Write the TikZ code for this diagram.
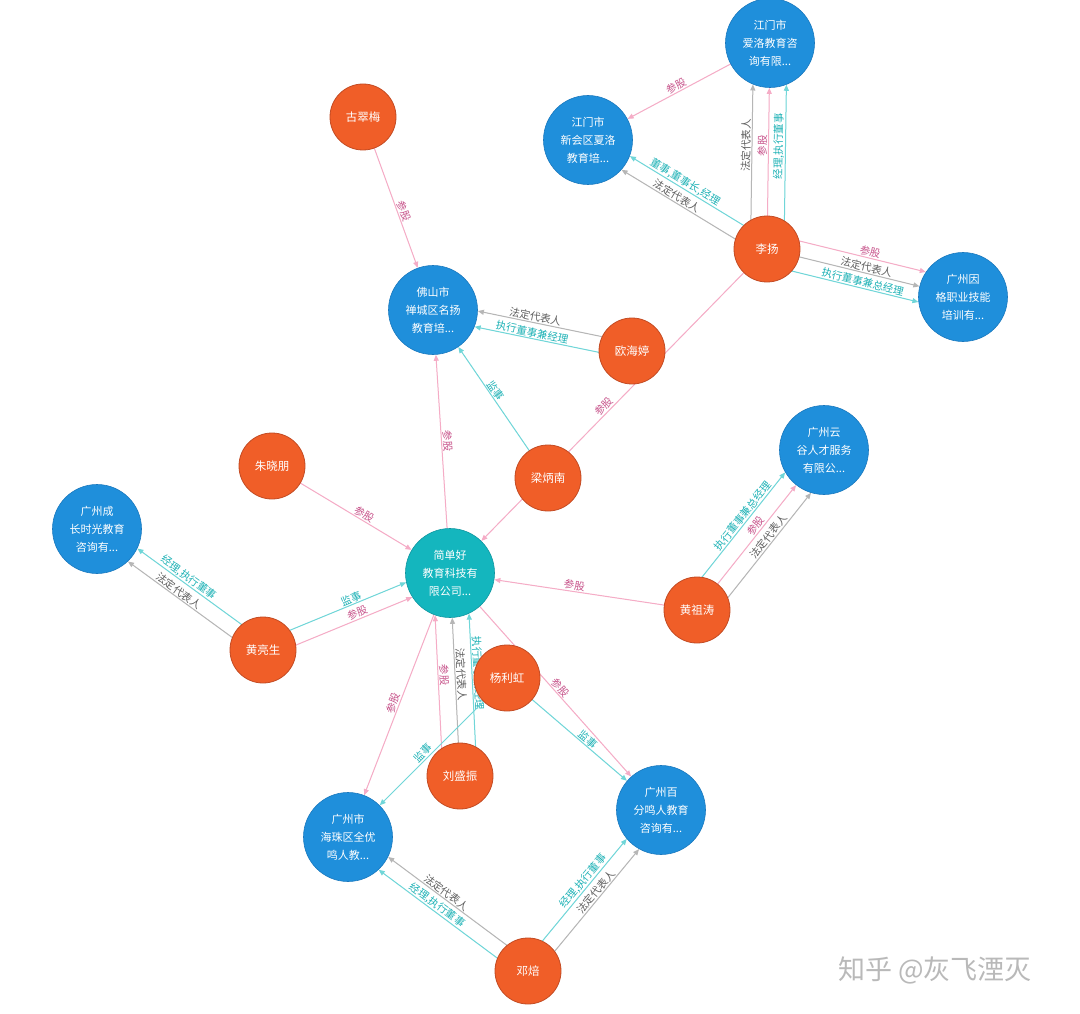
\documentclass[tikz,border=0pt]{standalone}
\usepackage{fontspec}
\newfontfamily\cjk{Noto Sans CJK SC}
\usetikzlibrary{calc,arrows.meta,backgrounds}
\definecolor{cblue}{RGB}{31,143,219}
\definecolor{cblueD}{RGB}{25,120,190}
\definecolor{corange}{RGB}{240,94,40}
\definecolor{corangeD}{RGB}{195,75,35}
\definecolor{cteal}{RGB}{20,182,190}
\definecolor{ctealD}{RGB}{15,150,160}
\definecolor{lgu}{RGB}{245,172,198}
\definecolor{tgu}{RGB}{200,85,140}
\definecolor{lfa}{RGB}{182,182,182}
\definecolor{tfa}{RGB}{95,95,95}
\definecolor{lzhi}{RGB}{112,214,216}
\definecolor{tzhi}{RGB}{30,178,182}
\definecolor{wm}{RGB}{185,185,185}
\tikzset{
  co/.style={circle, fill=cblue, draw=cblueD, line width=0.6pt, minimum size=89pt, inner sep=0pt,
    align=center, text=white, font=\cjk\fontsize{11}{18}\selectfont},
  pe/.style={circle, fill=corange, draw=corangeD, line width=0.8pt, minimum size=66pt, inner sep=0pt,
    align=center, text=white, font=\cjk\fontsize{11.5}{14}\selectfont},
  hub/.style={co, fill=cteal, draw=ctealD},
  edgebase/.style={line width=1pt, -{Triangle[length=6pt,width=5pt]}},
  e-gu/.style={edgebase, draw=lgu, fill=lgu},
  e-fa/.style={edgebase, draw=lfa, fill=lfa},
  e-zhi/.style={edgebase, draw=lzhi, fill=lzhi},
  lblbase/.style={sloped, above, inner sep=0.8pt, font=\cjk\fontsize{10.5}{11}\selectfont},
  l-gu/.style={lblbase, text=tgu},
  l-fa/.style={lblbase, text=tfa},
  l-zhi/.style={lblbase, text=tzhi},
}
\newcommand\rel[6]{%
  \pgfmathsetmacro\relsh{sqrt((#5)*(#5)-(#4)*(#4))+0.4}%
  \draw[e-#1, shorten >=\relsh pt] ($(#2)!#4pt!90:(#3)$) -- node[l-#1]{#6} ($(#3)!#4pt!-90:(#2)$);%
}
\begin{document}
\begin{tikzpicture}[x=1pt,y=-1pt]
\useasboundingbox (0,0) rectangle (1080,1014);
% nodes
\node[co] (aiLuo) at (770,43) {江门市\\爱洛教育咨\\询有限...};
\node[co] (xiaLuo) at (588,140) {江门市\\新会区夏洛\\教育培...};
\node[pe] (liYang) at (767,249) {李扬};
\node[co] (yinGe) at (963,297) {广州因\\格职业技能\\培训有...};
\node[pe] (guCui) at (363,117) {古翠梅};
\node[co] (foShan) at (433,310) {佛山市\\禅城区名扬\\教育培...};
\node[pe] (ouHai) at (632,351) {欧海婷};
\node[pe] (liang) at (548,478) {梁炳南};
\node[pe] (zhu) at (272,466) {朱晓朋};
\node[co] (yunGu) at (824,450) {广州云\\谷人才服务\\有限公...};
\node[co] (chengZ) at (97,529) {广州成\\长时光教育\\咨询有...};
\node[hub] (jdh) at (450,573) {简单好\\教育科技有\\限公司...};
\node[pe] (huangZ) at (697,610) {黄祖涛};
\node[pe] (huangL) at (263,650) {黄亮生};
\node[pe] (yang) at (507,678) {杨利虹};
\node[pe] (liu) at (460,776) {刘盛振};
\node[co] (haiZhu) at (348,837) {广州市\\海珠区全优\\鸣人教...};
\node[co] (baiFen) at (661,810) {广州百\\分鸣人教育\\咨询有...};
\node[pe] (deng) at (528,971) {邓焙};
\node[font=\cjk\fontsize{27}{27}\selectfont, text=wm] (mark) at (935,970) {知乎 @灰飞湮灭};
% connectors
\begin{pgfonlayer}{background}
\fill[white] (0,0) rectangle (1080,1014);
\rel{gu}{aiLuo}{xiaLuo}{0}{44.5}{参股}
\rel{zhi}{liYang}{xiaLuo}{-8}{44.5}{董事,董事长,经理}
\rel{fa}{liYang}{xiaLuo}{8}{44.5}{法定代表人}
\rel{fa}{liYang}{aiLuo}{16.5}{44.5}{法定代表人}
\rel{gu}{liYang}{aiLuo}{0}{44.5}{参股}
\rel{zhi}{liYang}{aiLuo}{-17}{44.5}{经理,执行董事}
\rel{gu}{liYang}{yinGe}{15.5}{44.5}{参股}
\rel{fa}{liYang}{yinGe}{0}{44.5}{法定代表人}
\rel{zhi}{liYang}{yinGe}{-15.5}{44.5}{执行董事兼总经理}
\rel{gu}{guCui}{foShan}{0}{44.5}{参股}
\rel{fa}{ouHai}{foShan}{-8}{44.5}{法定代表人}
\rel{zhi}{ouHai}{foShan}{8}{44.5}{执行董事兼经理}
\rel{gu}{liYang}{jdh}{0}{44.5}{参股}
\rel{zhi}{liang}{foShan}{0}{44.5}{监事}
\rel{gu}{jdh}{foShan}{0}{44.5}{参股}
\rel{gu}{zhu}{jdh}{0}{44.5}{参股}
\rel{zhi}{huangL}{jdh}{8}{44.5}{监事}
\rel{gu}{huangL}{jdh}{-8}{44.5}{参股}
\rel{zhi}{huangL}{chengZ}{-8}{44.5}{经理,执行董事}
\rel{fa}{huangL}{chengZ}{8}{44.5}{法定代表人}
\rel{gu}{huangZ}{jdh}{0}{44.5}{参股}
\rel{zhi}{huangZ}{yunGu}{16.5}{44.5}{执行董事兼总经理}
\rel{gu}{huangZ}{yunGu}{0}{44.5}{参股}
\rel{fa}{huangZ}{yunGu}{-16.5}{44.5}{法定代表人}
\rel{gu}{liu}{jdh}{17}{44.5}{参股}
\rel{fa}{liu}{jdh}{0}{44.5}{法定代表人}
\rel{zhi}{liu}{jdh}{-17}{44.5}{执行董事兼经理}
\rel{gu}{jdh}{haiZhu}{0}{44.5}{参股}
\rel{zhi}{yang}{haiZhu}{0}{44.5}{监事}
\rel{zhi}{yang}{baiFen}{0}{44.5}{监事}
\rel{gu}{jdh}{baiFen}{0}{44.5}{参股}
\rel{fa}{deng}{haiZhu}{-8}{44.5}{法定代表人}
\rel{zhi}{deng}{haiZhu}{8}{44.5}{经理,执行董事}
\rel{zhi}{deng}{baiFen}{8}{44.5}{经理,执行董事}
\rel{fa}{deng}{baiFen}{-8}{44.5}{法定代表人}
\end{pgfonlayer}
\end{tikzpicture}
\end{document}
